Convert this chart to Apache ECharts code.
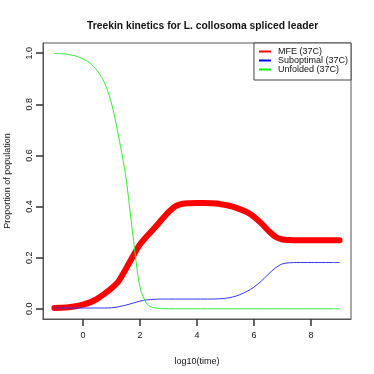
<!DOCTYPE html>
<html>
<head>
<meta charset="utf-8">
<script src="https://cdn.jsdelivr.net/npm/echarts@6/dist/echarts.min.js"></script>
<style>
  html, body { margin: 0; padding: 0; background: #fff; }
  #chart { width: 374px; height: 374px; }
</style>
</head>
<body>
<div id="chart"></div>
<script>
// log10(time), step 0.25 from -1 to 9
var times = [];
for (var k = 0; k <= 40; k++) times.push(-1 + k * 0.25);

var mfe = [
  0.003, 0.004, 0.006, 0.010, 0.016, 0.025, 0.039, 0.058, 0.080, 0.108,
  0.155, 0.205, 0.252, 0.285, 0.315, 0.347, 0.378, 0.402, 0.411, 0.413,
  0.414, 0.414, 0.413, 0.411, 0.406, 0.400, 0.390, 0.378, 0.360, 0.335,
  0.306, 0.282, 0.271, 0.269, 0.268, 0.268, 0.268, 0.268, 0.268, 0.268,
  0.268
];
var subopt = [
  0.003, 0.003, 0.003, 0.003, 0.003, 0.003, 0.003, 0.003, 0.004, 0.008,
  0.014, 0.022, 0.030, 0.035, 0.037, 0.038, 0.038, 0.038, 0.038, 0.038,
  0.038, 0.038, 0.038, 0.039, 0.041, 0.046, 0.055, 0.068, 0.085, 0.108,
  0.135, 0.160, 0.176, 0.180, 0.181, 0.181, 0.181, 0.181, 0.181, 0.181,
  0.181
];
var unfolded = [
  0.999, 0.998, 0.995, 0.989, 0.978, 0.962, 0.932, 0.886, 0.805, 0.675,
  0.520, 0.290, 0.085, 0.018, 0.004, 0.001, 0.000, 0.000, 0.000, 0.000,
  0.000, 0.000, 0.000, 0.000, 0.000, 0.000, 0.000, 0.000, 0.000, 0.000,
  0.000, 0.000, 0.000, 0.000, 0.000, 0.000, 0.000, 0.000, 0.000, 0.000,
  0.000
];

var xTicks = [0, 2, 4, 6, 8];
var yTicks = [0, 0.2, 0.4, 0.6, 0.8, 1.0];
var names = ["MFE (37C)", "Suboptimal (37C)", "Unfolded (37C)"];

function pairs(ys) {
  return times.map(function (t, i) {
    return [t, ys[i]];
  });
}

var chart = echarts.init(document.getElementById("chart"));
var font = "Liberation Sans, Arial, Helvetica, sans-serif";

var option = {
  animation: false,
  backgroundColor: "#fff",
  title: {
    text: "Treekin kinetics for L. collosoma spliced leader",
    left: 82,
    top: 16,
    textStyle: { fontFamily: font, fontSize: 10.3, fontWeight: "bold", color: "#111" }
  },
  grid: {
    left: 43, right: 23, top: 43, bottom: 55,
    outerBoundsMode: "none",
    containLabel: false,
    show: true, borderColor: "#555", borderWidth: 1
  },
  legend: {
    data: names,
    orient: "vertical",
    right: 23,
    top: 43,
    padding: [4, 3, 6, 5],
    itemGap: 0,
    itemWidth: 12,
    itemHeight: 2,
    icon: "rect",
    borderColor: "#444",
    borderWidth: 1,
    backgroundColor: "#fff",
    textStyle: { fontFamily: font, fontSize: 9, color: "#111", lineHeight: 8, padding: [0, 0, 0, 2] }
  },
  xAxis: {
    type: "value",
    min: -1.4,
    max: 9.4,
    name: "log10(time)",
    nameLocation: "middle",
    nameGap: 38,
    nameTextStyle: { fontFamily: font, fontSize: 9, color: "#111" },
    splitLine: { show: false },
    axisLine: { show: true, onZero: false, lineStyle: { color: "#555", width: 1 } },
    axisTick: { show: true, length: 7, customValues: xTicks, lineStyle: { color: "#333", width: 1.5 } },
    axisLabel: {
      customValues: xTicks,
      margin: 12,
      fontFamily: font, fontSize: 9, color: "#111"
    }
  },
  yAxis: {
    type: "value",
    min: -0.04,
    max: 1.04,
    name: "Proportion of population",
    nameLocation: "middle",
    nameGap: 31,
    nameTextStyle: { fontFamily: font, fontSize: 9, color: "#111" },
    splitLine: { show: false },
    axisLine: { show: true, onZero: false, lineStyle: { color: "#555", width: 1 } },
    axisTick: { show: true, length: 7, customValues: yTicks, lineStyle: { color: "#333", width: 1.5 } },
    axisLabel: {
      customValues: yTicks,
      rotate: 90,
      margin: 9,
      fontFamily: font, fontSize: 9, color: "#111",
      formatter: function (v) { return v.toFixed(1); }
    }
  },
  series: [
    {
      name: names[0],
      type: "line",
      data: pairs(mfe),
      smooth: 0.3,
      symbol: "none",
      color: "#ff0000",
      lineStyle: { width: 6, color: "#ff0000", cap: "round", join: "round" }
    },
    {
      name: names[1],
      type: "line",
      data: pairs(subopt),
      smooth: 0.3,
      symbol: "none",
      color: "#0000ff",
      lineStyle: { width: 1, color: "#3333ff" }
    },
    {
      name: names[2],
      type: "line",
      data: pairs(unfolded),
      smooth: 0.3,
      symbol: "none",
      color: "#00ff00",
      lineStyle: { width: 1, color: "#33ee33" }
    }
  ]
};
chart.setOption(option);
</script>
</body>
</html>
